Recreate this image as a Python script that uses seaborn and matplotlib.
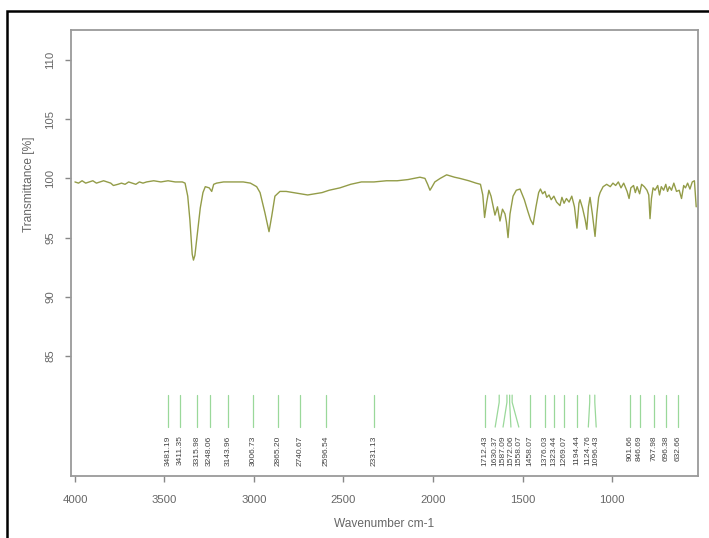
import numpy as np
import pandas as pd
import matplotlib
matplotlib.use("Agg")
import matplotlib.pyplot as plt
import seaborn as sns
from matplotlib.patches import Rectangle

# ---------------- data ----------------
wavenumber = [4000, 3980, 3960, 3940, 3920, 3900, 3880, 3860, 3840, 3820, 3800, 3785,
              3760, 3740, 3720, 3700, 3680, 3660, 3640, 3620, 3600, 3560, 3520, 3480,
              3440, 3400, 3385, 3370, 3358, 3345, 3338, 3330, 3315, 3300, 3285, 3272,
              3250, 3236, 3225, 3209, 3170, 3120, 3060, 3020, 2985, 2966, 2939, 2916,
              2901, 2883, 2855, 2820, 2782, 2740, 2700, 2660, 2620, 2580, 2520, 2460,
              2400, 2330, 2260, 2200, 2140, 2073, 2045, 2030, 2017, 2005, 1990, 1960,
              1924, 1880, 1850, 1800, 1760, 1735, 1722, 1712, 1700, 1688, 1676, 1654,
              1640, 1626, 1612, 1598, 1590, 1581, 1570, 1553, 1535, 1514, 1490, 1470,
              1455, 1441, 1425, 1410, 1400, 1388, 1375, 1365, 1352, 1340, 1325, 1310,
              1291, 1280, 1268, 1255, 1240, 1225, 1210, 1196, 1185, 1179, 1165, 1150,
              1141, 1132, 1123, 1110, 1095, 1085, 1075, 1067, 1050, 1030, 1010, 995,
              980, 965, 950, 935, 916, 905, 895, 880, 870, 860, 846, 835, 820, 805,
              795, 788, 780, 771, 760, 745, 735, 725, 712, 700, 690, 680, 668, 655,
              640, 625, 612, 600, 590, 578, 565, 552, 540, 530]
transmittance = [99.7, 99.6, 99.8, 99.6, 99.7, 99.8, 99.6, 99.7, 99.8, 99.7, 99.6, 99.4,
                 99.5, 99.6, 99.5, 99.7, 99.6, 99.5, 99.7, 99.6, 99.7, 99.8, 99.7, 99.8,
                 99.7, 99.7, 99.6, 98.5, 96.5, 93.6, 93.1, 93.5, 95.5, 97.5, 98.8, 99.3,
                 99.2, 98.9, 99.5, 99.6, 99.7, 99.7, 99.7, 99.6, 99.3, 98.8, 97.1, 95.5,
                 96.8, 98.5, 98.9, 98.9, 98.8, 98.7, 98.6, 98.7, 98.8, 99.0, 99.2, 99.5,
                 99.7, 99.7, 99.8, 99.8, 99.9, 100.1, 100.0, 99.5, 99.0, 99.3, 99.7, 100.0,
                 100.3, 100.1, 100.0, 99.8, 99.6, 99.5, 98.6, 96.7, 98.0, 99.0, 98.5, 96.9,
                 97.6, 96.4, 97.4, 97.0, 96.3, 95.0, 97.0, 98.5, 99.0, 99.1, 98.2, 97.2,
                 96.5, 96.1, 97.6, 98.8, 99.1, 98.7, 98.9, 98.4, 98.6, 98.2, 98.5, 98.0,
                 97.7, 98.4, 97.9, 98.3, 98.0, 98.5, 97.6, 95.8, 97.9, 98.2, 97.5, 96.5,
                 95.7, 97.6, 98.4, 97.0, 95.1, 97.0, 98.4, 98.8, 99.3, 99.5, 99.3, 99.6,
                 99.4, 99.7, 99.2, 99.6, 98.9, 98.3, 99.2, 99.4, 98.8, 99.3, 98.7, 99.5,
                 99.3, 99.0, 98.6, 96.6, 98.3, 99.2, 99.0, 99.4, 98.6, 99.3, 99.0, 99.5,
                 98.9, 99.3, 99.0, 99.6, 98.9, 99.0, 98.3, 99.4, 99.2, 99.6, 99.1, 99.7,
                 99.8, 97.6]

peak_positions = [3481.19, 3411.35, 3315.98, 3248.06, 3143.96, 3006.73, 2865.20,
                  2740.67, 2596.54, 2331.13, 1712.43, 1630.37, 1587.09, 1572.06,
                  1558.07, 1458.07, 1376.03, 1323.44, 1269.07, 1194.44, 1124.76,
                  1096.43, 901.66, 846.69, 767.98, 696.38, 632.66]
peak_labels = ["%.2f" % p for p in peak_positions]

x_ticks = [4000, 3500, 3000, 2500, 2000, 1500, 1000]
y_ticks = [85, 90, 95, 100, 105, 110]

# ---------------- style ----------------
sns.set_style("white")
plt.rcParams['font.family'] = ['Liberation Sans', 'DejaVu Sans']
grey = '#666666'

fig = plt.figure(figsize=(7.09, 5.38), dpi=100)
ax = fig.add_axes([71 / 709, 1 - 476 / 538, (698 - 71) / 709, (476 - 30) / 538])

df = pd.DataFrame({"wavenumber": wavenumber, "transmittance": transmittance})
sns.lineplot(data=df, x="wavenumber", y="transmittance", ax=ax,
             color='#939c48', linewidth=1.0, sort=True, estimator=None)

ax.set_xlim(4022, 520)
ax.set_ylim(74.87, 112.53)

# ---- peak annotation: spread label positions to avoid overlap ----
min_sep = 44.0
order = np.argsort(peak_positions)[::-1]
pos = np.array(peak_positions, dtype=float)[order]
lab = pos.copy()
for _ in range(5000):
    moved = False
    for i in range(len(lab) - 1):
        gap = lab[i] - lab[i + 1]
        if gap < min_sep - 1e-6:
            d = (min_sep - gap) / 2 + 0.01
            lab[i] += d
            lab[i + 1] -= d
            moved = True
    if not moved:
        break

line_top, line_bot, text_top = 81.7, 79.0, 78.3
for p, l, idx in zip(pos, lab, order):
    ax.plot([p, p, l], [line_top, line_top - 0.6, line_bot], color='#9ad89a', lw=0.9)
    ax.text(l, text_top, peak_labels[idx], rotation=90, ha='center', va='top',
            fontsize=6.0, color='#444444')

# ---- axes styling ----
for s in ax.spines.values():
    s.set_color('#9a9a9a')
    s.set_linewidth(1.3)
ax.set_xticks(x_ticks)
ax.set_xticklabels([str(t) for t in x_ticks])
ax.set_yticks(y_ticks)
ax.set_yticklabels([str(t) for t in y_ticks], rotation=90, va='center')
ax.tick_params(axis='both', direction='out', length=4.5, width=1.0, color='#888888',
               labelsize=8.2, labelcolor=grey, bottom=True, left=True)
ax.tick_params(axis='x', pad=9)
ax.tick_params(axis='y', pad=7)
ax.set_xlabel("Wavenumber cm-1", fontsize=8.6, color=grey)
ax.set_ylabel("Transmittance [%]", fontsize=8.6, color=grey)
ax.xaxis.set_label_coords(0.5, -0.095)
ax.yaxis.set_label_coords(-0.058, 0.655)

# outer black frame (top and left visible)
fig.patches.append(Rectangle((7.5 / 709, -0.2), 1.2, 1 - 10.5 / 538 + 0.2,
                             transform=fig.transFigure, fill=False,
                             edgecolor='black', linewidth=1.8))

fig.savefig("out.png", dpi=100)
